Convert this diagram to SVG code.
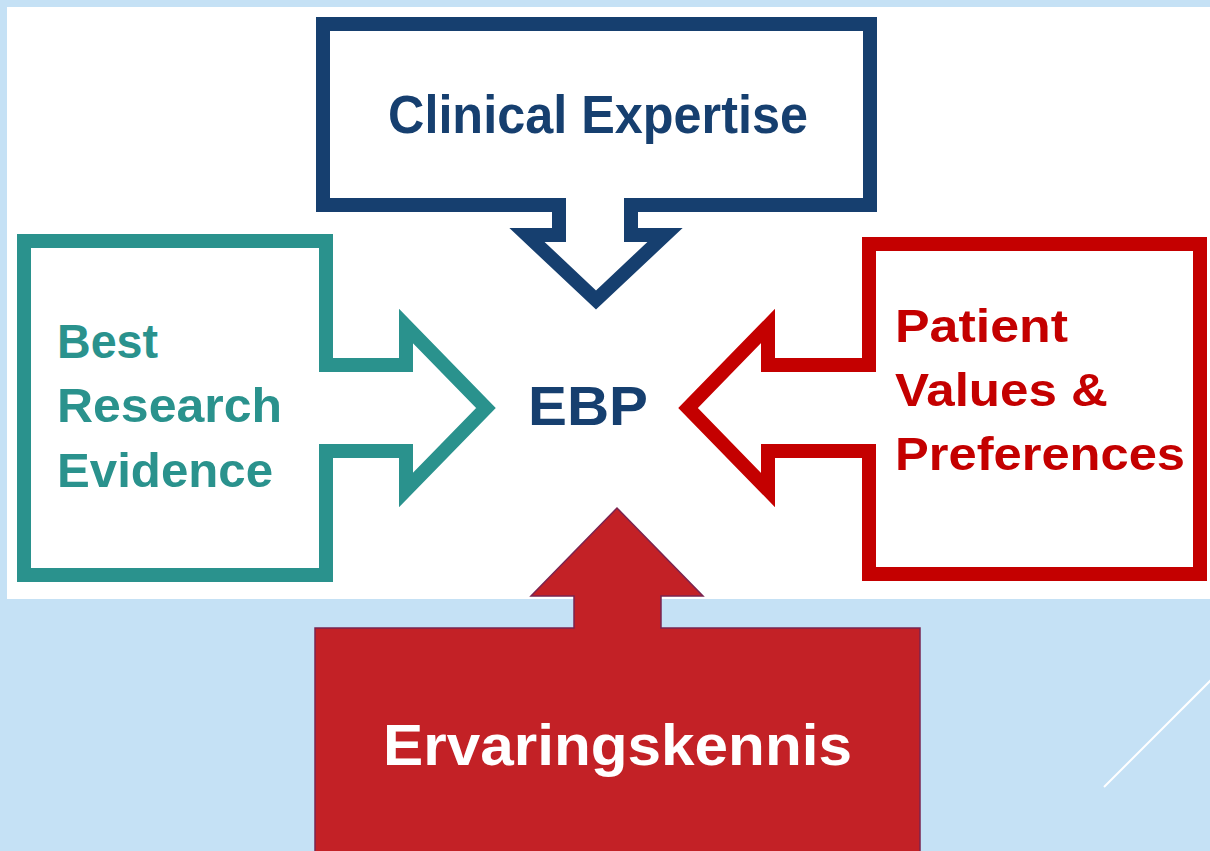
<svg xmlns="http://www.w3.org/2000/svg" width="1210" height="851" viewBox="0 0 1210 851">
<style>
.lbl{font-family:"Liberation Sans","Open Sans",Arial,sans-serif;font-weight:bold}
.outline{fill:none;stroke-width:14;stroke-linejoin:miter;stroke-miterlimit:10}
</style>
<rect x="0" y="0" width="1210" height="851" fill="#C5E1F5"/>
<rect x="7" y="7" width="1203" height="592" fill="#FFFFFF"/>
<line x1="1104" y1="787" x2="1212" y2="679" stroke="#FFFFFF" stroke-width="2"/>
<g id="clinical-expertise">
<path class="outline" stroke="#163F6F" d="M 323 24 H 870 V 205 H 631 V 235 H 665 L 596 300 L 527 235 H 559 V 205 H 323 Z"/>
<text class="lbl" x="388" y="133" font-size="54" fill="#163F6F" textLength="420" lengthAdjust="spacingAndGlyphs">Clinical Expertise</text>
</g>
<g id="best-research-evidence">
<path class="outline" stroke="#2A928D" d="M 326 365 H 406 V 326 L 486 408 L 406 490 V 451 H 326 V 575 H 24 V 241 H 326 Z"/>
<text class="lbl" font-size="48" fill="#2A928D">
<tspan x="57" y="358" textLength="101" lengthAdjust="spacingAndGlyphs">Best</tspan>
<tspan x="57" y="422" textLength="225" lengthAdjust="spacingAndGlyphs">Research</tspan>
<tspan x="57" y="487" textLength="216" lengthAdjust="spacingAndGlyphs">Evidence</tspan>
</text>
</g>
<g id="ebp">
<text class="lbl" x="528" y="425" font-size="56" fill="#163F6F" textLength="120" lengthAdjust="spacingAndGlyphs">EBP</text>
</g>
<g id="patient-values">
<path class="outline" stroke="#C40000" d="M 869 365 H 768 V 326 L 688 408 L 768 490 V 451 H 869 V 574 H 1200 V 244 H 869 Z"/>
<text class="lbl" font-size="46" fill="#C40000">
<tspan x="895" y="342" textLength="173" lengthAdjust="spacingAndGlyphs">Patient</tspan>
<tspan x="895" y="406" textLength="213" lengthAdjust="spacingAndGlyphs">Values &amp;</tspan>
<tspan x="895" y="470" textLength="290" lengthAdjust="spacingAndGlyphs">Preferences</tspan>
</text>
</g>
<g id="ervaringskennis">
<path fill="#C32126" stroke="#7A2450" stroke-width="1.5" d="M 315 628 H 574 V 596 H 531 L 617 508 L 703 596 H 661 V 628 H 920 V 852 H 315 Z"/>
<text class="lbl" x="383" y="765" font-size="58" fill="#FFFFFF" textLength="469" lengthAdjust="spacingAndGlyphs">Ervaringskennis</text>
</g>
<g id="connectors"></g>
</svg>
